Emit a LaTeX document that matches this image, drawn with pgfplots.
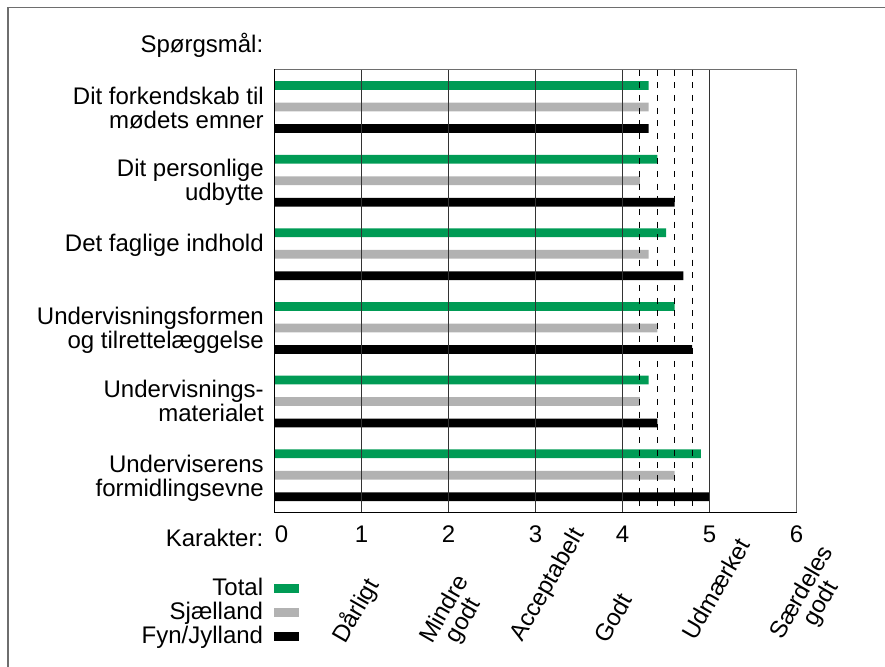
\documentclass[border=0pt]{standalone}
\usepackage{pgfplots}
\pgfplotsset{compat=1.18}
\usepackage{pgfplotstable}
\usepackage{fontspec}
\setmainfont{Liberation Sans}

\definecolor{totalgreen}{HTML}{009B55}
\definecolor{sjgray}{HTML}{B2B2B2}
\definecolor{framegray}{HTML}{6E6E6E}
\newcommand\lbl{\fontsize{18}{18}\selectfont}

% Average rating per question, scale 0-6
\pgfplotstableread{
q total sjaelland fyn
1 4.3 4.3 4.3
2 4.4 4.2 4.6
3 4.5 4.3 4.7
4 4.6 4.4 4.8
5 4.3 4.2 4.4
6 4.9 4.6 5.0
}\ratings

\pgfplotsset{
  swatch/.style={legend image code/.code={\fill[##1,/tikz/.cd] (0pt,-3.9pt) rectangle (18.75pt,2.9pt);}},
}

\begin{document}
\begin{tikzpicture}
\useasboundingbox (0,0) rectangle (663.75pt,-500.25pt);
\begin{axis}[
  at={(205.875pt,-52.125pt)}, anchor=north west,
  scale only axis, width=391.5pt, height=332.4pt,
  xmin=0, xmax=6, ymin=0.49, ymax=6.51, y dir=reverse,
  axis on top, clip=false,
  axis line style={draw=framegray, line width=0.9pt},
  xtick={0,...,6}, xticklabels={\hspace*{10.5pt}0,1,2,3,4,5,6},
  ytick=\empty, major tick length=0pt,
  xmajorgrids, grid style={black!80, line width=0.8pt},
  extra x ticks={4.2,4.4,4.6,4.8}, extra x tick labels={},
  extra x tick style={grid style={black, line width=0.75pt, dash pattern=on 4.5pt off 5pt}},
  xticklabel style={anchor=base, yshift=-22.5pt, inner sep=0pt, font=\lbl},
  legend plot pos=right, legend cell align=right,
  legend style={draw=none, fill=none, at={(axis cs:0.282,7.40)}, anchor=north east,
    font=\lbl, row sep=3.4pt, inner sep=0pt,
    nodes={inner sep=0pt},
    /tikz/every odd column/.append style={column sep=8pt}},
]
\addplot[xbar, bar width=0.118, bar shift=0pt, fill=totalgreen, draw=none, swatch]
  table[x=total, y expr=\thisrow{q}-0.292] {\ratings};
\addplot[xbar, bar width=0.118, bar shift=0pt, fill=sjgray, draw=none, swatch]
  table[x=sjaelland, y=q] {\ratings};
\addplot[xbar, bar width=0.118, bar shift=0pt, fill=black, draw=none, swatch]
  table[x=fyn, y expr=\thisrow{q}+0.292] {\ratings};
\legend{Total, Sjælland, Fyn/Jylland}
\coordinate (tl) at (axis cs:0,0.49);
\coordinate (bl) at (axis cs:0,6.51);
\coordinate (br) at (axis cs:6,6.51);
\end{axis}
\draw[black, line width=0.9pt] (tl) -- (bl) -- (br);

\begin{scope}[x=0.75pt, y=-0.75pt, every node/.style={inner sep=0pt, font=\lbl}]
  % frame
  \draw[framegray, line width=1.1pt] (8,667) -- (8,7.5) -- (885,7.5);
  % headings
  \node[anchor=base east] at (263.5,53) {Spørgsmål:};
  \node[anchor=base east] at (263.5,546) {Karakter:};
  % questions
  \node[anchor=base east] at (264,104.3) {Dit forkendskab til};
  \node[anchor=base east] at (264,128.3) {mødets emner};
  \node[anchor=base east] at (264,176.3) {Dit personlige};
  \node[anchor=base east] at (264,200.3) {udbytte};
  \node[anchor=base east] at (264,251.3) {Det faglige indhold};
  \node[anchor=base east] at (264,324.3) {Undervisningsformen};
  \node[anchor=base east] at (264,348.3) {og tilrettelæggelse};
  \node[anchor=base east] at (264,397.3) {Undervisnings-};
  \node[anchor=base east] at (264,421.3) {materialet};
  \node[anchor=base east] at (264,472.3) {Underviserens};
  \node[anchor=base east] at (264,496.3) {formidlingsevne};
  % grade names
  \node[rotate=60, anchor=base west] at (345,645) {Dårligt};
  \node[rotate=60, anchor=base west] (m1) at (432,645) {Mindre};
  \node[rotate=60, anchor=base] at ([xshift=14.3pt,yshift=-8.25pt]m1.base) {godt};
  \node[rotate=60, anchor=base west] at (522,643) {Acceptabelt};
  \node[rotate=60, anchor=base west] at (607,645) {Godt};
  \node[rotate=60, anchor=base west] at (695,642) {Udmærket};
  \node[rotate=60, anchor=base west] (s1) at (782,641) {Særdeles};
  \node[rotate=60, anchor=base] at ([xshift=14.3pt,yshift=-8.25pt]s1.base) {godt};
\end{scope}
\end{tikzpicture}
\end{document}
